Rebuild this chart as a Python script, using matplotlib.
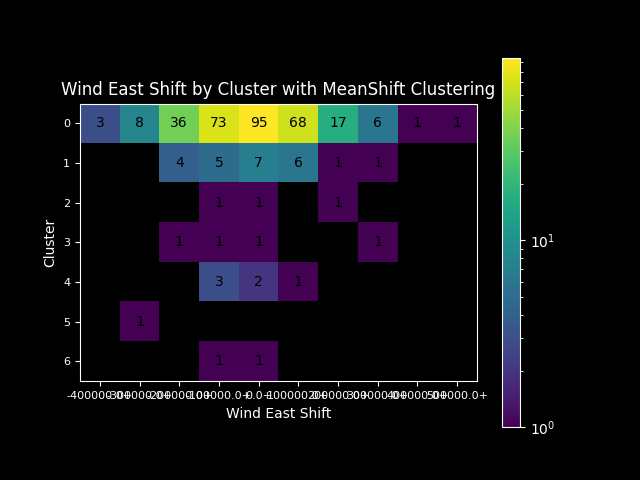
import matplotlib
matplotlib.use("Agg")
import matplotlib.pyplot as plt
import numpy as np
from matplotlib.colors import LogNorm

plt.style.use("dark_background")

clusters = [0, 1, 2, 3, 4, 5, 6]
bins = ["-400000.0+", "-300000.0+", "-200000.0+", "-100000.0+", "0.0+",
        "100000.0+", "200000.0+", "300000.0+", "400000.0+", "500000.0+"]

cluster0 = [3, 8, 36, 73, 95, 68, 17, 6, 1, 1]
cluster1 = [0, 0, 4, 5, 7, 6, 1, 1, 0, 0]
cluster2 = [0, 0, 0, 1, 1, 0, 1, 0, 0, 0]
cluster3 = [0, 0, 1, 1, 1, 0, 0, 1, 0, 0]
cluster4 = [0, 0, 0, 3, 2, 1, 0, 0, 0, 0]
cluster5 = [0, 1, 0, 0, 0, 0, 0, 0, 0, 0]
cluster6 = [0, 0, 0, 1, 1, 0, 0, 0, 0, 0]

counts = np.array([cluster0, cluster1, cluster2, cluster3,
                   cluster4, cluster5, cluster6], dtype=float)
masked = np.ma.masked_where(counts == 0, counts)

fig, ax = plt.subplots(figsize=(6.4, 4.8), dpi=100)
im = ax.imshow(masked, cmap="viridis", norm=LogNorm(vmin=1, vmax=counts.max()))
fig.colorbar(im, ax=ax)

for i in range(counts.shape[0]):
    for j in range(counts.shape[1]):
        if counts[i, j] > 0:
            ax.text(j, i, int(counts[i, j]), ha="center", va="center", color="black")

ax.set_xticks(range(len(bins)))
ax.set_xticklabels(bins, fontsize=8)
ax.set_yticks(range(len(clusters)))
ax.set_yticklabels(clusters, fontsize=8)
ax.set_xlabel("Wind East Shift")
ax.set_ylabel("Cluster")
ax.set_title("Wind East Shift by Cluster with MeanShift Clustering")

fig.savefig("out.png")
